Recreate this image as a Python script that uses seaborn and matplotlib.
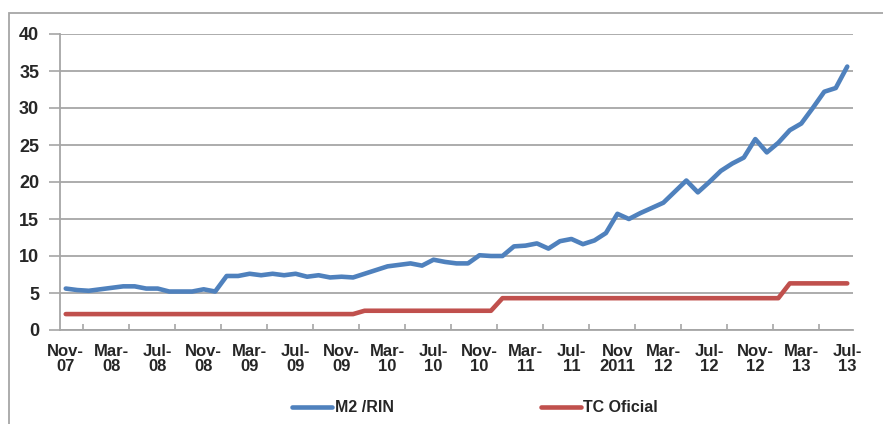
import numpy as np
import pandas as pd
import matplotlib
matplotlib.use("Agg")
import matplotlib.pyplot as plt
import seaborn as sns
from matplotlib.patches import Rectangle

# ---- data (monthly, Nov-2007 .. Jul-2013) ----
m2_rin = [5.6, 5.4, 5.3, 5.5, 5.7, 5.9, 5.9, 5.6, 5.6, 5.2, 5.2, 5.2, 5.5, 5.2,
          7.3, 7.3, 7.6, 7.4, 7.6, 7.4, 7.6,
          7.2, 7.4, 7.1, 7.2, 7.1, 7.6, 8.1, 8.6, 8.8, 9.0, 8.7, 9.5, 9.2, 9.0, 9.0,
          10.1, 10.0, 10.0, 11.3, 11.4, 11.7, 11.0, 12.0, 12.3,
          11.6, 12.1, 13.1, 15.7, 15.0, 15.8, 16.5, 17.2, 18.7, 20.2, 18.6, 20.0,
          21.5, 22.5, 23.3, 25.8, 24.0, 25.3, 27.0, 27.9, 30.0, 32.2, 32.7, 35.6]
tc_oficial = [2.15] * 26 + [2.6] * 12 + [4.3] * 25 + [6.3] * 6
tick_labels = ["Nov-\n07", "Mar-\n08", "Jul-\n08", "Nov-\n08", "Mar-\n09", "Jul-\n09",
               "Nov-\n09", "Mar-\n10", "Jul-\n10", "Nov-\n10", "Mar-\n11", "Jul-\n11",
               "Nov\n2011", "Mar-\n12", "Jul-\n12", "Nov-\n12", "Mar-\n13", "Jul-\n13"]
series_names = ["M2 /RIN", "TC Oficial"]
colors = ["#4F81BD", "#C0504D"]

n = len(m2_rin)
idx = np.arange(n)
df = pd.DataFrame({
    "t": np.concatenate([idx, idx]),
    "value": m2_rin + tc_oficial,
    "serie": [series_names[0]] * n + [series_names[1]] * n,
})

sns.set_style("white")
plt.rcParams["font.family"] = ["Liberation Sans", "DejaVu Sans"]

grey = "#A6A6A6"
fig = plt.figure(figsize=(8.83, 4.24), dpi=100)
ax = fig.add_axes([60 / 883, 94 / 424, (853 - 60) / 883, (330 - 34) / 424])

sns.lineplot(data=df, x="t", y="value", hue="serie", palette=colors,
             linewidth=3.3, ax=ax, legend=False)

ax.set_xlim(-0.5, n - 0.5)
ax.set_ylim(0, 40)
ax.set_yticks(np.arange(0, 41, 5))
ax.set_yticklabels([str(v) for v in range(0, 41, 5)], fontsize=13, fontweight="bold")
ax.yaxis.grid(True, color=grey, linewidth=1.3)
ax.set_axisbelow(True)

ax.set_xticks(idx[::4])
ax.set_xticklabels(tick_labels, fontsize=12, fontweight="bold", linespacing=1.0)
ax.set_xticks(np.arange(-0.5, n - 0.5, 4), minor=True)
ax.tick_params(axis="x", which="major", length=0, pad=10)
ax.tick_params(axis="x", which="minor", length=4, direction="out", color=grey, width=1.2)
ax.tick_params(axis="y", which="major", length=8, color=grey, width=1.2, pad=7, left=True)

# inward ticks between the outward ones
sec = ax.secondary_xaxis("bottom")
sec.set_xticks(np.arange(1.5, n - 0.5, 4))
sec.set_xticklabels([])
sec.tick_params(axis="x", length=4, direction="in", color=grey, width=1.2)
sec.spines["bottom"].set_visible(False)

for s in ["top", "right"]:
    ax.spines[s].set_visible(False)
for s in ["left", "bottom"]:
    ax.spines[s].set_color(grey)
    ax.spines[s].set_linewidth(1.3)
ax.set_xlabel("")
ax.set_ylabel("")

handles = [plt.Line2D([], [], color=c, linewidth=3.3) for c in colors]
fig.legend(handles, series_names, loc="center", bbox_to_anchor=(475 / 883, 1 - 408 / 424),
           ncol=2, frameon=False, prop={"weight": "bold", "size": 11.5},
           handlelength=2.5, handletextpad=0.15, columnspacing=9.2)

fig.patches.append(Rectangle((9 / 883, -0.1), 1.2, 1 - 13 / 424 + 0.1, transform=fig.transFigure,
                             fill=False, edgecolor=grey, linewidth=1.3))

fig.savefig("out.png", dpi=100)
